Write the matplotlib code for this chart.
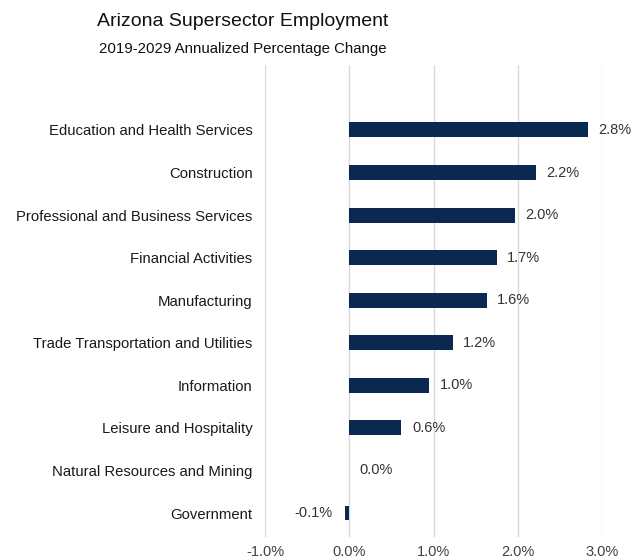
import matplotlib
matplotlib.use("Agg")
import matplotlib.pyplot as plt
from matplotlib.ticker import FuncFormatter

categories = [
    "Education and Health Services",
    "Construction",
    "Professional and Business Services",
    "Financial Activities",
    "Manufacturing",
    "Trade Transportation and Utilities",
    "Information",
    "Leisure and Hospitality",
    "Natural Resources and Mining",
    "Government",
]
values = [2.83, 2.22, 1.97, 1.75, 1.63, 1.23, 0.95, 0.62, 0.0, -0.05]
value_labels = ["2.8%", "2.2%", "2.0%", "1.7%", "1.6%", "1.2%", "1.0%", "0.6%", "0.0%", "-0.1%"]
xticks = [-1.0, 0.0, 1.0, 2.0, 3.0]

plt.rcParams['font.family'] = ['Liberation Sans', 'DejaVu Sans']

fig = plt.figure(figsize=(6.33, 5.59), dpi=100)
ax = fig.add_axes([265/633, 1-537/559, (602-265)/633, (537-65)/559])

ypos = list(range(len(categories)))
ax.barh(ypos, values, height=0.35, color="#0b2850", zorder=3)

ax.set_xlim(-1.0, 3.0)
ax.set_ylim(9 + 24/42.6, -65/42.6)
ax.set_xticks(xticks)
ax.xaxis.set_major_formatter(FuncFormatter(lambda v, p: f"{v:.1f}%"))
ax.tick_params(axis='x', length=0, labelsize=10.5, labelcolor="#404040", pad=6)
ax.set_yticks(ypos)
ax.set_yticklabels(categories)
ax.tick_params(axis='y', length=0, labelsize=10.7, labelcolor="#1a1a1a", pad=9)
ax.grid(axis='x', color="#d9d9d9", linewidth=1, zorder=0)
for s in ax.spines.values():
    s.set_visible(False)

for y, v, lab in zip(ypos, values, value_labels):
    if v < 0:
        ax.annotate(lab, (v, y), xytext=(-9, 0), textcoords="offset points",
                    ha="right", va="center", fontsize=10.5, color="#333333")
    else:
        ax.annotate(lab, (v, y), xytext=(7.5, 0), textcoords="offset points",
                    ha="left", va="center", fontsize=10.5, color="#333333")

fig.text(243/633, 1-21/559, "Arizona Supersector Employment", ha="center", va="center",
         fontsize=14, color="#111111")
fig.text(243/633, 1-49/559, "2019-2029 Annualized Percentage Change", ha="center", va="center",
         fontsize=10.8, color="#111111")

fig.savefig("out.png", dpi=100, facecolor="white")
